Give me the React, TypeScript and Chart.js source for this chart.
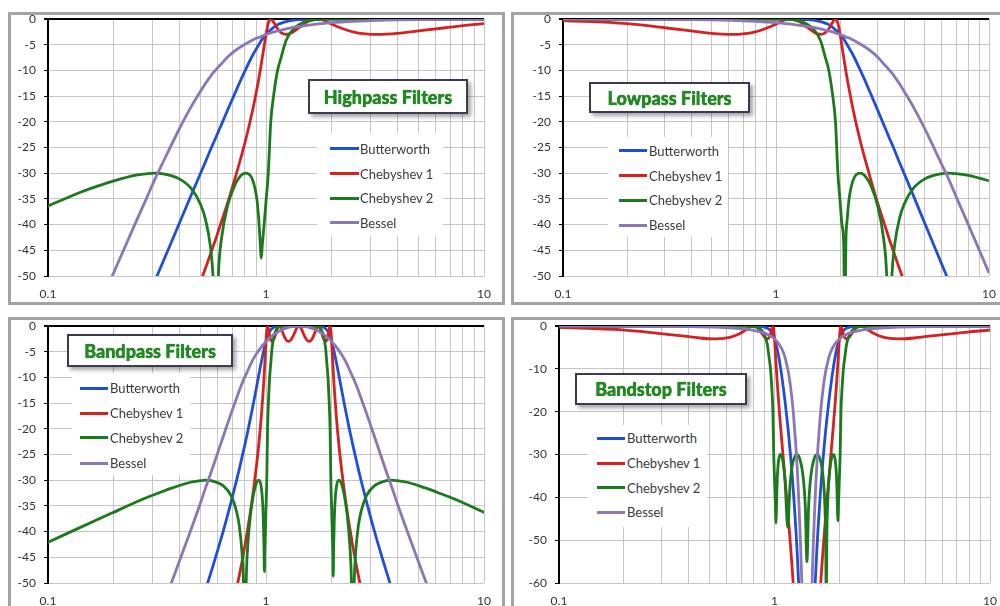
import React, { useEffect, useRef } from 'react';
import { Chart, registerables } from 'chart.js';

Chart.register(...registerables);

// ---------- shared labels / ticks ----------
const seriesNames = ['Butterworth', 'Chebyshev 1', 'Chebyshev 2', 'Bessel'];
const xTickValues = [0.1, 0.2, 0.3, 0.4, 0.5, 0.6, 0.7, 0.8, 0.9, 1, 2, 3, 4, 5, 6, 7, 8, 9, 10];
const xTickLabels = ['0.1', '1', '10'];

// ---------- Highpass ----------
const hpFreq = [0.05, 0.1, 0.1429, 0.1667, 0.2, 0.25, 0.2857, 0.309, 0.3333, 0.4, 0.4545, 0.5, 0.5263, 0.5556, 0.5714, 0.5882, 0.6061, 0.625, 0.6667, 0.7143, 0.7692, 0.809, 0.8696, 0.9091, 0.9259, 0.939, 0.9515, 0.9615, 0.9804, 1, 1.0246, 1.0515, 1.087, 1.13, 1.1765, 1.2361, 1.3333, 1.4286, 1.5385, 1.7007, 1.8182, 2, 2.2222, 2.5, 2.8571, 3.2362, 4, 5, 6.6667, 10, 20];
const hpButter = [-130, -100, -84.5, -77.8, -69.9, -60.2, -54.4, -51.0, -47.7, -39.8, -34.2, -30.1, -27.9, -25.5, -24.3, -23.1, -21.8, -20.5, -17.7, -14.8, -11.7, -9.7, -7.0, -5.6, -5.0, -4.6, -4.2, -3.9, -3.5, -3.0, -2.5, -2.1, -1.6, -1.1, -0.8, -0.5, -0.24, -0.12, -0.06, -0.02, -0.01, 0, 0, 0, 0, 0, 0, 0, 0, 0, 0];
const hpCheb1 = [-152, -122, -107, -100, -92, -83, -77, -73, -70, -62, -55.9, -51.2, -48.6, -45.8, -44.3, -42.8, -41.1, -39.4, -35.8, -31.6, -26.8, -23.3, -17.6, -13.5, -11.7, -10.2, -8.7, -7.5, -5.3, -3.0, -0.8, 0, -0.7, -1.9, -2.7, -3.0, -2.5, -1.6, -0.6, 0, -0.2, -1.0, -1.8, -2.5, -2.9, -3.0, -2.8, -2.3, -1.7, -0.9, -0.3];
const hpCheb2 = [-42.1, -36.4, -33.6, -32.6, -31.5, -30.4, -30.1, -30, -30.1, -31.1, -33.0, -36.0, -38.8, -44.2, -50, -65, -48.9, -42.7, -36.3, -32.6, -30.4, -30, -31.4, -35.2, -38.9, -43, -46.5, -44, -40, -35.5, -30, -20, -14.5, -10, -7.3, -4.2, -2.0, -1.0, -0.4, -0.1, -0.05, -0.02, 0, 0, 0, 0, 0, 0, 0, 0, 0];
const hpBessel = [-110, -80, -63.5, -57.1, -49.4, -40.0, -34.5, -31.2, -28.3, -21.4, -17.0, -14.1, -12.6, -11.2, -10.5, -9.9, -9.3, -8.7, -7.4, -6.3, -5.35, -4.8, -4.1, -3.7, -3.6, -3.5, -3.4, -3.3, -3.15, -3.0, -2.86, -2.7, -2.5, -2.3, -2.14, -1.93, -1.65, -1.43, -1.24, -1.0, -0.88, -0.72, -0.59, -0.47, -0.36, -0.28, -0.18, -0.11, -0.07, -0.03, -0.01];

// ---------- Lowpass ----------
const lpFreq = [0.1, 0.2, 0.3, 0.4, 0.5, 0.618, 0.7, 0.8, 0.9, 1.0, 1.1, 1.176, 1.3, 1.4, 1.5, 1.618, 1.7, 1.77, 1.84, 1.902, 1.952, 2.0, 2.04, 2.08, 2.102, 2.13, 2.16, 2.2, 2.3, 2.472, 2.6, 2.8, 3.0, 3.2, 3.3, 3.4, 3.5, 3.6, 3.8, 4.0, 4.4, 5.0, 6.0, 6.472, 7.0, 8.0, 10, 12, 14, 20, 40];
const lpButter = [0, 0, 0, 0, 0, 0, 0, 0, 0, 0, -0.01, -0.02, -0.06, -0.12, -0.24, -0.5, -0.8, -1.1, -1.6, -2.1, -2.5, -3.0, -3.5, -3.9, -4.2, -4.6, -5.0, -5.6, -7.0, -9.7, -11.7, -14.8, -17.7, -20.5, -21.8, -23.1, -24.3, -25.5, -27.9, -30.1, -34.2, -39.8, -47.7, -51.0, -54.4, -60.2, -69.9, -77.8, -84.5, -100, -130];
const lpCheb1 = [-0.3, -0.9, -1.7, -2.3, -2.8, -3.0, -2.9, -2.5, -1.8, -1.0, -0.2, 0, -0.6, -1.6, -2.5, -3.0, -2.7, -1.9, -0.7, 0, -0.8, -3.0, -5.3, -7.5, -8.7, -10.2, -11.7, -13.5, -17.6, -23.3, -26.8, -31.6, -35.8, -39.4, -41.1, -42.8, -44.3, -45.8, -48.6, -51.2, -55.9, -62, -70, -73, -77, -83, -92, -100, -107, -122, -152];
const lpCheb2 = [0, 0, 0, 0, 0, 0, 0, 0, 0, -0.02, -0.05, -0.1, -0.4, -1.0, -2.0, -4.2, -7.3, -10, -14.5, -20, -30, -35.5, -40, -44, -60, -43, -38.9, -35.2, -31.4, -30, -30.4, -32.6, -36.3, -42.7, -48.9, -65, -50, -44.2, -38.8, -36.0, -33.0, -31.1, -30.1, -30, -30.1, -30.4, -31.5, -32.6, -33.6, -36.4, -42.1];
const lpBessel = [-0.01, -0.03, -0.07, -0.11, -0.18, -0.28, -0.36, -0.47, -0.59, -0.72, -0.88, -1.0, -1.24, -1.43, -1.65, -1.93, -2.14, -2.3, -2.5, -2.7, -2.86, -3.0, -3.15, -3.3, -3.4, -3.5, -3.6, -3.7, -4.1, -4.8, -5.35, -6.3, -7.4, -8.7, -9.3, -9.9, -10.5, -11.2, -12.6, -14.1, -17.0, -21.4, -28.3, -31.2, -34.5, -40.0, -49.4, -57.1, -63.5, -80, -110];

// ---------- Bandpass ----------
const bpFreq = [0.0995, 0.1962, 0.2749, 0.3166, 0.3723, 0.4495, 0.5, 0.5309, 0.5616, 0.6375, 0.6917, 0.7321, 0.7537, 0.7763, 0.788, 0.8, 0.8122, 0.8248, 0.8508, 0.878, 0.9064, 0.9253, 0.9516, 0.9674, 0.9738, 0.9787, 0.9832, 0.9868, 0.9934, 1.0, 1.0081, 1.0165, 1.0272, 1.0393, 1.0517, 1.0664, 1.0881, 1.1069, 1.1261, 1.1505, 1.1657, 1.1861, 1.207, 1.2283, 1.25, 1.2681, 1.2947, 1.3177, 1.3412, 1.3651, 1.3894,
  1.4142,
  1.4394, 1.4651, 1.4912, 1.5177, 1.5447, 1.5771, 1.6, 1.6283, 1.657, 1.6861, 1.7157, 1.7385, 1.7761, 1.8069, 1.8381, 1.8754, 1.9017, 1.9243, 1.9471, 1.9675, 1.984, 2.0, 2.0134, 2.0268, 2.0342, 2.0436, 2.0538, 2.0674, 2.1016, 2.1614, 2.2064, 2.278, 2.3508, 2.4248, 2.4623, 2.5, 2.538, 2.5763, 2.6537, 2.7321, 2.8916, 3.1375, 3.5616, 3.767, 4.0, 4.4495, 5.3723, 6.3166, 7.2749, 10.196, 20.099];
const bpButter = [-130, -100, -84.5, -77.8, -69.9, -60.2, -54.4, -51.0, -47.7, -39.8, -34.2, -30.1, -27.9, -25.5, -24.3, -23.1, -21.8, -20.5, -17.7, -14.8, -11.7, -9.7, -7.0, -5.6, -5.0, -4.6, -4.2, -3.9, -3.5, -3.0, -2.5, -2.1, -1.6, -1.1, -0.8, -0.5, -0.24, -0.12, -0.06, -0.02, -0.01, 0, 0, 0, 0, 0, 0, 0, 0, 0, 0,
  0,
  0, 0, 0, 0, 0, 0, 0, 0, 0, 0, -0.01, -0.02, -0.06, -0.12, -0.24, -0.5, -0.8, -1.1, -1.6, -2.1, -2.5, -3.0, -3.5, -3.9, -4.2, -4.6, -5.0, -5.6, -7.0, -9.7, -11.7, -14.8, -17.7, -20.5, -21.8, -23.1, -24.3, -25.5, -27.9, -30.1, -34.2, -39.8, -47.7, -51.0, -54.4, -60.2, -69.9, -77.8, -84.5, -100, -130];
const bpCheb1 = [-152, -122, -107, -100, -92, -83, -77, -73, -70, -62, -55.9, -51.2, -48.6, -45.8, -44.3, -42.8, -41.1, -39.4, -35.8, -31.6, -26.8, -23.3, -17.6, -13.5, -11.7, -10.2, -8.7, -7.5, -5.3, -3.0, -0.8, 0, -0.7, -1.9, -2.7, -3.0, -2.5, -1.6, -0.6, 0, -0.2, -1.0, -1.8, -2.5, -2.9, -3.0, -2.8, -2.3, -1.7, -0.9, -0.3,
  0,
  -0.3, -0.9, -1.7, -2.3, -2.8, -3.0, -2.9, -2.5, -1.8, -1.0, -0.2, 0, -0.6, -1.6, -2.5, -3.0, -2.7, -1.9, -0.7, 0, -0.8, -3.0, -5.3, -7.5, -8.7, -10.2, -11.7, -13.5, -17.6, -23.3, -26.8, -31.6, -35.8, -39.4, -41.1, -42.8, -44.3, -45.8, -48.6, -51.2, -55.9, -62, -70, -73, -77, -83, -92, -100, -107, -122, -152];
const bpCheb2 = [-42.1, -36.4, -33.6, -32.6, -31.5, -30.4, -30.1, -30, -30.1, -31.1, -33.0, -36.0, -38.8, -44.2, -50, -65, -48.9, -42.7, -36.3, -32.6, -30.4, -30, -31.4, -35.2, -38.9, -43, -47.8, -44, -40, -35.5, -30, -20, -14.5, -10, -7.3, -4.2, -2.0, -1.0, -0.4, -0.1, -0.05, -0.02, 0, 0, 0, 0, 0, 0, 0, 0, 0,
  0,
  0, 0, 0, 0, 0, 0, 0, 0, 0, -0.02, -0.05, -0.1, -0.4, -1.0, -2.0, -4.2, -7.3, -10, -14.5, -20, -30, -35.5, -40, -44, -48.7, -43, -38.9, -35.2, -31.4, -30, -30.4, -32.6, -36.3, -42.7, -48.9, -65, -50, -44.2, -38.8, -36.0, -33.0, -31.1, -30.1, -30, -30.1, -30.4, -31.5, -32.6, -33.6, -36.4, -42.1];
const bpBessel = [-110, -80, -63.5, -57.1, -49.4, -40.0, -34.5, -31.2, -28.3, -21.4, -17.0, -14.1, -12.6, -11.2, -10.5, -9.9, -9.3, -8.7, -7.4, -6.3, -5.35, -4.8, -4.1, -3.7, -3.6, -3.5, -3.4, -3.3, -3.15, -3.0, -2.86, -2.7, -2.5, -2.3, -2.14, -1.93, -1.65, -1.43, -1.24, -1.0, -0.88, -0.72, -0.59, -0.47, -0.36, -0.28, -0.18, -0.11, -0.07, -0.03, -0.01,
  0,
  -0.01, -0.03, -0.07, -0.11, -0.18, -0.28, -0.36, -0.47, -0.59, -0.72, -0.88, -1.0, -1.24, -1.43, -1.65, -1.93, -2.14, -2.3, -2.5, -2.7, -2.86, -3.0, -3.15, -3.3, -3.4, -3.5, -3.6, -3.7, -4.1, -4.8, -5.35, -6.3, -7.4, -8.7, -9.3, -9.9, -10.5, -11.2, -12.6, -14.1, -17.0, -21.4, -28.3, -31.2, -34.5, -40.0, -49.4, -57.1, -63.5, -80, -110];

// ---------- Bandstop ----------
const bsFreq = [0.0995, 0.1962, 0.2876, 0.3723, 0.4495, 0.5309, 0.5816, 0.6375, 0.6874, 0.7321, 0.7721, 0.7998, 0.8407, 0.8701, 0.8968, 0.9253, 0.9435, 0.9579, 0.9715, 0.983, 0.9918, 1.0, 1.0067, 1.0129, 1.0163, 1.0206, 1.0251, 1.0309, 1.0447, 1.0664, 1.081, 1.1015, 1.1197, 1.1358, 1.1433, 1.1505, 1.1572, 1.1634, 1.1753, 1.1861, 1.2051, 1.2283, 1.2573, 1.2681, 1.2785, 1.2947, 1.3177, 1.3333, 1.3446, 1.3651, 1.3894,
  1.4142,
  1.4394, 1.4651, 1.4875, 1.5, 1.5177, 1.5447, 1.5643, 1.5771, 1.5907, 1.6283, 1.6596, 1.6861, 1.7016, 1.7191, 1.7283, 1.7385, 1.7493, 1.7608, 1.7862, 1.8156, 1.8501, 1.8754, 1.9144, 1.94, 1.9511, 1.9596, 1.9679, 1.9745, 1.9867, 2.0, 2.0165, 2.0346, 2.0586, 2.0879, 2.1198, 2.1614, 2.2301, 2.2987, 2.3791, 2.5007, 2.5903, 2.7321, 2.9095, 3.1375, 3.4387, 3.767, 4.4495, 5.3723, 6.9542, 10.196, 20.099];
const bsButter = [0, 0, 0, 0, 0, 0, 0, 0, 0, 0, -0.01, -0.02, -0.06, -0.12, -0.24, -0.5, -0.8, -1.1, -1.6, -2.1, -2.5, -3.0, -3.5, -3.9, -4.2, -4.6, -5.0, -5.6, -7.0, -9.7, -11.7, -14.8, -17.7, -20.5, -21.8, -23.1, -24.3, -25.5, -27.9, -30.1, -34.2, -39.8, -47.7, -51.0, -54.4, -60.2, -69.9, -77.8, -84.5, -100, -130,
  -150,
  -130, -100, -84.5, -77.8, -69.9, -60.2, -54.4, -51.0, -47.7, -39.8, -34.2, -30.1, -27.9, -25.5, -24.3, -23.1, -21.8, -20.5, -17.7, -14.8, -11.7, -9.7, -7.0, -5.6, -5.0, -4.6, -4.2, -3.9, -3.5, -3.0, -2.5, -2.1, -1.6, -1.1, -0.8, -0.5, -0.24, -0.12, -0.06, -0.02, -0.01, 0, 0, 0, 0, 0, 0, 0, 0, 0, 0];
const bsCheb1 = [-0.3, -0.9, -1.7, -2.3, -2.8, -3.0, -2.9, -2.5, -1.8, -1.0, -0.2, 0, -0.6, -1.6, -2.5, -3.0, -2.7, -1.9, -0.7, 0, -0.8, -3.0, -5.3, -7.5, -8.7, -10.2, -11.7, -13.5, -17.6, -23.3, -26.8, -31.6, -35.8, -39.4, -41.1, -42.8, -44.3, -45.8, -48.6, -51.2, -55.9, -62, -70, -73, -77, -83, -92, -100, -107, -122, -152,
  -180,
  -152, -122, -107, -100, -92, -83, -77, -73, -70, -62, -55.9, -51.2, -48.6, -45.8, -44.3, -42.8, -41.1, -39.4, -35.8, -31.6, -26.8, -23.3, -17.6, -13.5, -11.7, -10.2, -8.7, -7.5, -5.3, -3.0, -0.8, 0, -0.7, -1.9, -2.7, -3.0, -2.5, -1.6, -0.6, 0, -0.2, -1.0, -1.8, -2.5, -2.9, -3.0, -2.8, -2.3, -1.7, -0.9, -0.3];
const bsCheb2 = [0, 0, 0, 0, 0, 0, 0, 0, 0, -0.02, -0.05, -0.1, -0.4, -1.0, -2.0, -4.2, -7.3, -10, -14.5, -20, -30, -35.5, -40, -44, -46, -43, -38.9, -35.2, -31.4, -30, -30.4, -32.6, -36.3, -42.7, -45.5, -47, -46, -44.2, -38.8, -36.0, -33.0, -31.1, -30.1, -30, -30.1, -30.4, -31.5, -32.6, -33.6, -36.4, -42.1,
  -55,
  -42.1, -36.4, -33.6, -32.6, -31.5, -30.4, -30.1, -30, -30.1, -31.1, -33.0, -36.0, -38.8, -44.2, -50, -65, -48.9, -42.7, -36.3, -32.6, -30.4, -30, -31.4, -35.2, -38.9, -43, -45.5, -44, -40, -35.5, -30, -20, -14.5, -10, -7.3, -4.2, -2.0, -1.0, -0.4, -0.1, -0.05, -0.02, 0, 0, 0, 0, 0, 0, 0, 0, 0];
const bsBessel = [-0.01, -0.03, -0.07, -0.11, -0.18, -0.28, -0.36, -0.47, -0.59, -0.72, -0.88, -1.0, -1.24, -1.43, -1.65, -1.93, -2.14, -2.3, -2.5, -2.7, -2.86, -3.0, -3.15, -3.3, -3.4, -3.5, -3.6, -3.7, -4.1, -4.8, -5.35, -6.3, -7.4, -8.7, -9.3, -9.9, -10.5, -11.2, -12.6, -14.1, -17.0, -21.4, -28.3, -31.2, -34.5, -40.0, -49.4, -57.1, -63.5, -80, -110,
  -130,
  -110, -80, -63.5, -57.1, -49.4, -40.0, -34.5, -31.2, -28.3, -21.4, -17.0, -14.1, -12.6, -11.2, -10.5, -9.9, -9.3, -8.7, -7.4, -6.3, -5.35, -4.8, -4.1, -3.7, -3.6, -3.5, -3.4, -3.3, -3.15, -3.0, -2.86, -2.7, -2.5, -2.3, -2.14, -1.93, -1.65, -1.43, -1.24, -1.0, -0.88, -0.72, -0.59, -0.47, -0.36, -0.28, -0.18, -0.11, -0.07, -0.03, -0.01];

// ---------- styling ----------
const lineColors = ['#1f4fd6', '#d42222', '#1b7a1b', '#8d76b6'];
const FONT = 'Lato, "Open Sans", sans-serif';
const AXIS_W = 44;
const PAD_T = 10;
const PAD_R = 12;
const XAXIS_H = 26;

type Box = { l: number; t: number; w: number; h: number };
type Panel = {
  title: string;
  freq: number[];
  values: number[][];
  yMin: number;
  yStep: number;
  plot: { l: number; t: number; r: number; b: number };
  frame: Box;
  titleBox: Box;
  legendBox: Box;
  legendRows: number[];
  sampleX: number;
  sampleW: number;
  textX: number;
};

const panels: Panel[] = [
  {
    title: 'Highpass Filters', freq: hpFreq, values: [hpButter, hpCheb1, hpCheb2, hpBessel], yMin: -50, yStep: 5,
    plot: { l: 48, t: 19, r: 484, b: 276 }, frame: { l: 8, t: 12, w: 497, h: 293 },
    titleBox: { l: 308, t: 79, w: 160, h: 35 }, legendBox: { l: 317, t: 133, w: 126, h: 103 },
    legendRows: [148.5, 173.5, 198, 222.5], sampleX: 330, sampleW: 29, textX: 360,
  },
  {
    title: 'Lowpass Filters', freq: lpFreq, values: [lpButter, lpCheb1, lpCheb2, lpBessel], yMin: -50, yStep: 5,
    plot: { l: 563, t: 19, r: 989, b: 276 }, frame: { l: 511, t: 12, w: 493, h: 293 },
    titleBox: { l: 589, t: 82, w: 161, h: 31 }, legendBox: { l: 608, t: 137, w: 120, h: 100 },
    legendRows: [150.7, 175.7, 200.3, 225.3], sampleX: 619, sampleW: 28, textX: 649,
  },
  {
    title: 'Bandpass Filters', freq: bpFreq, values: [bpButter, bpCheb1, bpCheb2, bpBessel], yMin: -50, yStep: 5,
    plot: { l: 48, t: 326, r: 484, b: 583 }, frame: { l: 8, t: 317, w: 497, h: 296 },
    titleBox: { l: 67, t: 334, w: 166, h: 33 }, legendBox: { l: 72, t: 373, w: 118, h: 102 },
    legendRows: [388.3, 413.3, 437.7, 463], sampleX: 80, sampleW: 28, textX: 110,
  },
  {
    title: 'Bandstop Filters', freq: bsFreq, values: [bsButter, bsCheb1, bsCheb2, bsBessel], yMin: -60, yStep: 10,
    plot: { l: 559, t: 326, r: 990, b: 583 }, frame: { l: 511, t: 317, w: 493, h: 296 },
    titleBox: { l: 575, t: 373, w: 172, h: 32 }, legendBox: { l: 588, t: 425, w: 119, h: 102 },
    legendRows: [438.3, 463, 487.7, 512], sampleX: 597, sampleW: 28, textX: 627,
  },
];

function PanelChart({ p }: { p: Panel }) {
  const ref = useRef<HTMLCanvasElement>(null);
  const W = p.plot.r - p.plot.l + AXIS_W + PAD_R;
  const H = p.plot.b - p.plot.t + PAD_T + XAXIS_H;

  useEffect(() => {
    if (!ref.current) return;
    const datasets = p.values.map((vals, si) => ({
      label: seriesNames[si],
      data: p.freq.map((f, i) => ({ x: f, y: vals[i] })),
      borderColor: lineColors[si],
      backgroundColor: lineColors[si],
      borderWidth: 2.8,
      pointRadius: 0,
      fill: false,
      cubicInterpolationMode: 'monotone' as const,
      order: 4 - si,
    }));
    const chart = new Chart(ref.current, {
      type: 'line',
      data: { datasets },
      options: {
        responsive: false,
        animation: false,
        devicePixelRatio: 1,
        layout: { padding: { left: 0, top: PAD_T, right: PAD_R, bottom: 0 } },
        plugins: { legend: { display: false }, tooltip: { enabled: false } },
        scales: {
          x: {
            type: 'logarithmic',
            min: 0.1,
            max: 10,
            afterBuildTicks: (s: any) => {
              s.ticks = xTickValues.map((v) => ({ value: v }));
            },
            afterFit: (s: any) => {
              s.height = XAXIS_H;
              s.paddingLeft = 0;
              s.paddingRight = 0;
            },
            ticks: {
              autoSkip: false,
              maxRotation: 0,
              padding: 11,
              color: '#333',
              font: { family: FONT, size: 12 },
              callback: (v: any) => {
                const n = Number(v);
                if (Math.abs(n - 0.1) < 1e-9) return xTickLabels[0];
                if (Math.abs(n - 1) < 1e-9) return xTickLabels[1];
                if (Math.abs(n - 10) < 1e-9) return xTickLabels[2];
                return '';
              },
            },
            grid: { color: '#c6c6c6', lineWidth: 1, drawTicks: false },
            border: { display: false },
          },
          y: {
            type: 'linear',
            min: p.yMin,
            max: 0,
            afterFit: (s: any) => {
              s.width = AXIS_W;
              s.paddingTop = 0;
              s.paddingBottom = 0;
            },
            ticks: {
              stepSize: p.yStep,
              padding: 8,
              color: '#333',
              font: { family: FONT, size: 12 },
            },
            grid: {
              color: (ctx: any) => (ctx.tick && ctx.tick.value === 0 ? '#000' : '#c6c6c6'),
              lineWidth: (ctx: any) => (ctx.tick && ctx.tick.value === 0 ? 2 : 1),
              tickLength: 4,
              tickColor: '#000',
            },
            border: { display: true, color: '#000', width: 2 },
          },
        },
      },
    } as any);
    return () => chart.destroy();
  }, [p]);

  return (
    <canvas
      ref={ref}
      width={W}
      height={H}
      style={{ position: 'absolute', left: p.plot.l - AXIS_W, top: p.plot.t - PAD_T, width: W, height: H }}
    />
  );
}

function PanelView({ p }: { p: Panel }) {
  return (
    <>
      <div
        style={{
          position: 'absolute', left: p.frame.l, top: p.frame.t, width: p.frame.w, height: p.frame.h,
          border: '3px solid #a3a3a3', boxSizing: 'border-box', background: '#fff',
        }}
      />
      <PanelChart p={p} />
      <div
        style={{
          position: 'absolute', left: p.legendBox.l, top: p.legendBox.t, width: p.legendBox.w,
          height: p.legendBox.h, background: '#fff',
        }}
      />
      {seriesNames.map((name, i) => (
        <React.Fragment key={name}>
          <div
            style={{
              position: 'absolute', left: p.sampleX, top: p.legendRows[i] - 1.5, width: p.sampleW,
              height: 3, background: lineColors[i],
            }}
          />
          <div
            style={{
              position: 'absolute', left: p.textX, top: p.legendRows[i] - 10, height: 20, lineHeight: '20px',
              fontFamily: FONT, fontSize: 13, color: '#3a3a3a', whiteSpace: 'nowrap',
            }}
          >
            {name}
          </div>
        </React.Fragment>
      ))}
      <div
        style={{
          position: 'absolute', left: p.titleBox.l, top: p.titleBox.t, width: p.titleBox.w, height: p.titleBox.h,
          boxSizing: 'border-box', border: '2px solid #3d3950', background: '#fff',
          boxShadow: '3px 3px 4px rgba(0,0,0,0.35)', display: 'flex', alignItems: 'center',
          justifyContent: 'center', fontFamily: FONT, fontWeight: 900, fontSize: 18, color: '#1f8a1f',
          textShadow: '0 0 1px #0b4a0b', whiteSpace: 'nowrap',
        }}
      >
        {p.title}
      </div>
    </>
  );
}

export default function App() {
  return (
    <div
      style={{
        position: 'absolute', left: 0, top: 0, width: 1000, height: 606, overflow: 'hidden',
        background: '#fff',
      }}
    >
      {panels.map((p) => (
        <PanelView key={p.title} p={p} />
      ))}
    </div>
  );
}
